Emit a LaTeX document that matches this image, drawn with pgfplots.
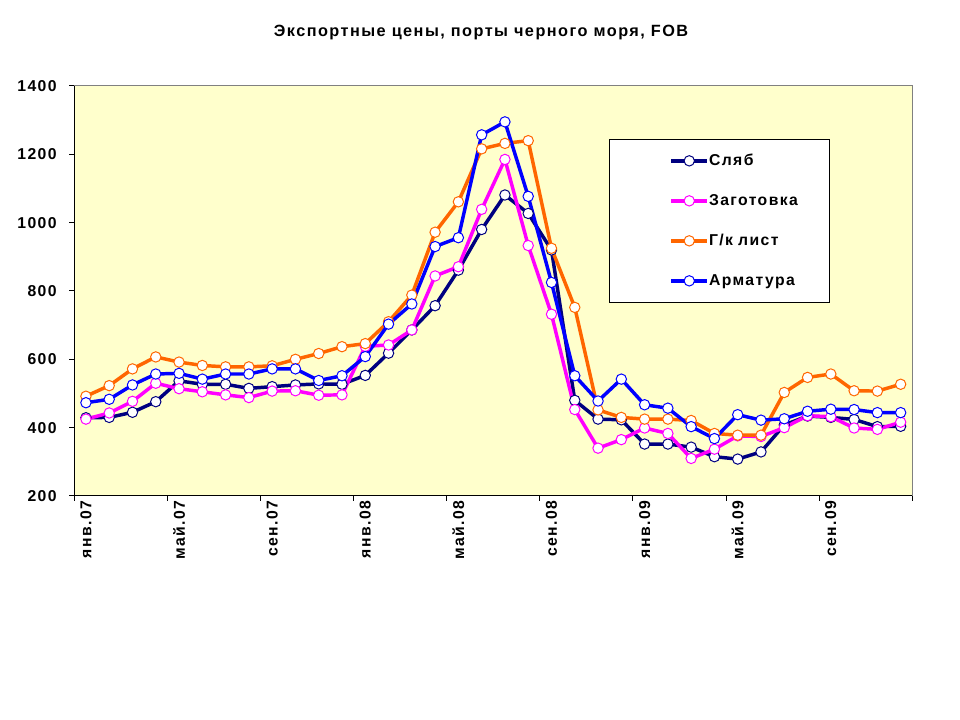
\documentclass[border=0pt]{standalone}
\usepackage{pgfplots}
\pgfplotsset{compat=1.18}
\usepackage{fontspec}
\setmainfont{Liberation Sans}
\newfontfamily\chartfont[LetterSpace=9]{Liberation Sans}
\definecolor{cNavy}{RGB}{0,0,128}
\definecolor{cMag}{RGB}{255,0,255}
\definecolor{cOr}{RGB}{255,102,0}
\definecolor{cBlue}{RGB}{0,0,255}
\definecolor{cBg}{RGB}{255,255,204}
\newcommand{\cf}{\chartfont\bfseries\fontsize{11.8pt}{13pt}\selectfont}
\newcommand{\tf}{\chartfont\bfseries\fontsize{12.2pt}{14pt}\selectfont}
\begin{document}
\begin{tikzpicture}
\useasboundingbox (0pt,0pt) rectangle (720pt,540pt);
\node[font=\tf] at (360.75pt,515.25pt) {Экспортные цены, порты черного моря, FOB};
\begin{axis}[
  at={(55.725pt,168pt)}, anchor=south west,
  width=628.5pt, height=307.5pt, scale only axis,
  xmin=-0.5, xmax=35.5, ymin=200, ymax=1400,
  axis x line*=bottom, axis y line*=left,
  axis line style={black, line width=0.75pt},
  axis background/.style={fill=cBg, draw=gray, line width=0.75pt},
  tick align=outside, major tick length=3.75pt,
  tick style={black, line width=0.75pt},
  xtick={-0.5,3.5,...,35.5}, xticklabels={},
  extra x ticks={0,4,8,12,16,20,24,28,32},
  extra x tick labels={янв.07,май.07,сен.07,янв.08,май.08,сен.08,янв.09,май.09,сен.09},
  extra x tick style={major tick length=0pt, tick style={draw=none}},
  xticklabel style={rotate=90, anchor=east, font=\cf},
  ytick={200,400,...,1400},
  yticklabel style={font=\cf, xshift=-6pt},
  /pgf/number format/set thousands separator={},
  /pgf/number format/assume math mode=true,
  every axis plot/.append style={line width=2.6pt, mark=*, mark size=3.9pt},
  legend style={at={(rel axis cs:0.6381,0.8707)}, anchor=north west,
    draw=black, fill=white, line width=0.75pt, font=\cf,
    inner xsep=0pt, inner ysep=1pt, row sep=0pt,
    nodes={inner sep=0pt, minimum height=30pt, text width=90pt, align=left}},
  legend cell align=left,
  legend image code/.code={
    \path (-45pt,0pt);
    \draw[mark repeat=2, mark phase=2] plot coordinates {(0pt,0pt) (13.5pt,0pt) (27pt,0pt)};
  },
]
\addplot[cNavy, mark options={fill=white, draw=cNavy, line width=0.75pt}] coordinates {
(0,429)(1,430)(2,445)(3,476)(4,537)(5,527)(6,527)(7,515)(8,520)(9,525)(10,528)(11,527)
(12,553)(13,618)(14,686)(15,757)(16,861)(17,980)(18,1081)(19,1027)(20,920)(21,480)(22,425)(23,423)
(24,352)(25,352)(26,343)(27,315)(28,308)(29,329)(30,408)(31,434)(32,430)(33,424)(34,403)(35,404)};
\addlegendentry{Сляб}
\addplot[cMag, mark options={fill=white, draw=cMag, line width=0.75pt}] coordinates {
(0,425)(1,443)(2,477)(3,530)(4,514)(5,505)(6,496)(7,488)(8,507)(9,508)(10,495)(11,496)
(12,638)(13,642)(14,686)(15,844)(16,871)(17,1039)(18,1185)(19,933)(20,732)(21,453)(22,340)(23,365)
(24,399)(25,383)(26,310)(27,337)(28,376)(29,374)(30,400)(31,435)(32,432)(33,399)(34,395)(35,416)};
\addlegendentry{Заготовка}
\addplot[cOr, mark options={fill=white, draw=cOr, line width=0.75pt}] coordinates {
(0,492)(1,523)(2,572)(3,607)(4,592)(5,582)(6,578)(7,578)(8,581)(9,600)(10,617)(11,637)
(12,646)(13,710)(14,788)(15,972)(16,1061)(17,1216)(18,1232)(19,1240)(20,925)(21,752)(22,452)(23,430)
(24,425)(25,425)(26,421)(27,383)(28,378)(29,378)(30,503)(31,547)(32,557)(33,508)(34,507)(35,527)};
\addlegendentry{Г/к лист}
\addplot[cBlue, mark options={fill=white, draw=cBlue, line width=0.75pt}] coordinates {
(0,473)(1,483)(2,525)(3,557)(4,559)(5,542)(6,557)(7,557)(8,572)(9,572)(10,538)(11,552)
(12,608)(13,703)(14,762)(15,930)(16,956)(17,1257)(18,1295)(19,1077)(20,825)(21,552)(22,478)(23,542)
(24,467)(25,457)(26,403)(27,368)(28,438)(29,422)(30,426)(31,448)(32,454)(33,453)(34,444)(35,444)};
\addlegendentry{Арматура}
\end{axis}
\end{tikzpicture}
\end{document}
